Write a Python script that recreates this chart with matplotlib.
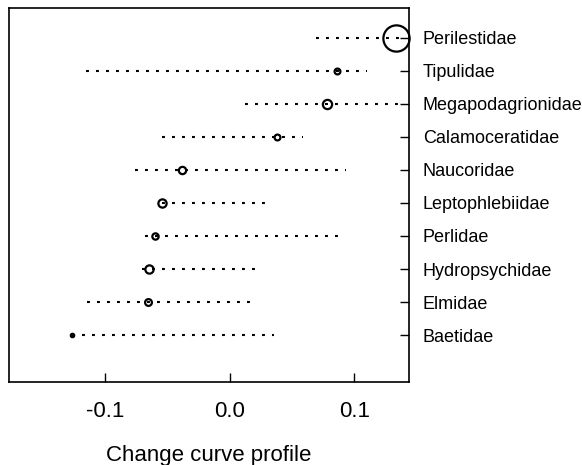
import numpy as np
import matplotlib
matplotlib.use("Agg")
import matplotlib.pyplot as plt

plt.rcParams['font.family'] = ['Liberation Sans', 'DejaVu Sans']

# taxa from bottom to top
taxa = ["Baetidae", "Elmidae", "Hydropsychidae", "Perlidae", "Leptophlebiidae",
        "Naucoridae", "Calamoceratidae", "Megapodagrionidae", "Tipulidae", "Perilestidae"]
lo = [-0.127, -0.115, -0.071, -0.068, -0.055, -0.076, -0.055, 0.012, -0.116, 0.069]
mean = [-0.127, -0.066, -0.065, -0.060, -0.055, -0.0386, 0.038, 0.078, 0.086, 0.133]
hi = [0.035, 0.018, 0.023, 0.092, 0.031, 0.093, 0.059, 0.137, 0.110, 0.140]
# relative symbol size (like R's cex)
cex = [0.35, 0.7, 0.85, 0.65, 0.85, 0.75, 0.6, 0.95, 0.6, 2.7]

fig = plt.figure(figsize=(5.82, 4.65), dpi=100)
ax = fig.add_axes([0.0155, 0.1785, 0.6872, 0.8043])

y = np.arange(1, len(taxa) + 1)
for i in range(len(taxa)):
    ax.plot([lo[i], hi[i]], [y[i], y[i]], color='black', lw=1.5,
            linestyle=(0, (1.4, 3.4)), dash_capstyle='butt')
for i in range(len(taxa)):
    ax.plot(mean[i], y[i], 'o', mfc='none', mec='black', mew=1.6,
            ms=7 * cex[i], clip_on=False)

ax.set_xlim(-0.1775, 0.1438)
ax.set_ylim(-0.42, 10.9)
ax.set_xticks([-0.1, 0.0, 0.1])
ax.set_xticklabels(["-0.1", "0.0", "0.1"])
ax.set_yticks(y)
ax.set_yticklabels(taxa)
ax.yaxis.tick_right()
ax.tick_params(axis='y', direction='in', length=6.5, width=1, pad=10, labelsize=13)
ax.tick_params(axis='x', direction='in', length=6.5, width=1, pad=14, labelsize=16)
for s in ax.spines.values():
    s.set_linewidth(1.2)
ax.set_xlabel("Change curve profile", fontsize=16, labelpad=16)

fig.savefig("out.png", dpi=100)
